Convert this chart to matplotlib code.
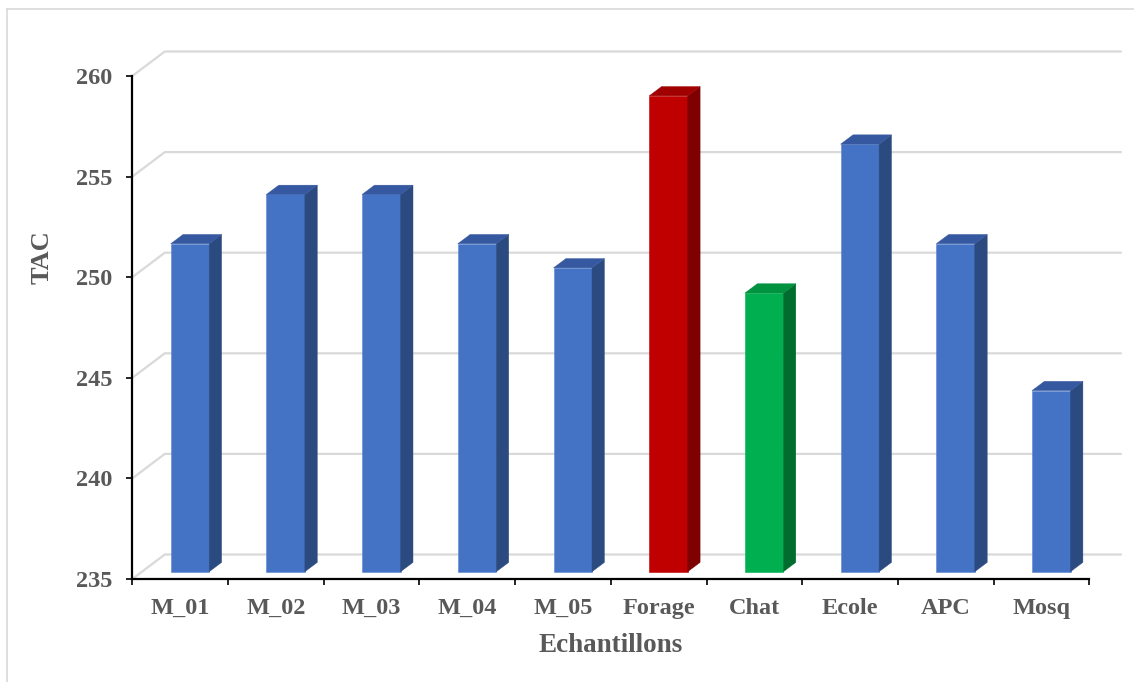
import matplotlib
matplotlib.use("Agg")
import matplotlib.pyplot as plt
from matplotlib.patches import Polygon
from matplotlib.lines import Line2D

# Sample data
categories = ["M_01", "M_02", "M_03", "M_04", "M_05",
              "Forage", "Chat", "Ecole", "APC", "Mosq"]
tac_values = [251.3, 253.75, 253.75, 251.3, 250.1,
              258.65, 248.85, 256.25, 251.3, 244.0]
y_ticks = [235, 240, 245, 250, 255, 260]

# face colours: (front, top, side)
BLUE = ("#4472C4", "#3558A0", "#2B4A80")
RED = ("#C00000", "#A00000", "#7E0000")
GREEN = ("#00B050", "#00923F", "#006C2E")
bar_styles = [BLUE, BLUE, BLUE, BLUE, BLUE, RED, GREEN, BLUE, BLUE, BLUE]

TEXT = "#595959"
GRID = "#D9D9D9"
FONT = ["Liberation Serif", "DejaVu Serif"]

W, H, DPI = 1134, 682, 100
fig = plt.figure(figsize=(W / DPI, H / DPI), dpi=DPI)

# front plane of the plot area, in pixels
left_px, right_px = 132.3, 1089.3
top_px, bottom_px = 76.0, 579.0
ax = fig.add_axes([left_px / W, 1 - bottom_px / H,
                   (right_px - left_px) / W, (bottom_px - top_px) / H])
ymin, ymax = y_ticks[0], y_ticks[-1]
n = len(categories)
ax.set_xlim(0, n)
ax.set_ylim(ymin, ymax)

# convert pixel depth offsets to data units
ux = n / (right_px - left_px)
uy = (ymax - ymin) / (bottom_px - top_px)
back_dx, back_dy = 32.5 * ux, 24.5 * uy          # back wall
front_dx, front_dy = 9.8 * ux, 7.3 * uy          # bar front faces
depth_dx, depth_dy = 12.4 * ux, 9.3 * uy         # bar depth
bar_w = 38.5 * ux

# gridlines on the back wall with their diagonal connectors
for t in y_ticks:
    ax.add_line(Line2D([0, back_dx, n + back_dx], [t, t + back_dy, t + back_dy],
                       color=GRID, lw=1.6, zorder=1, clip_on=False,
                       solid_capstyle="butt"))

# 3D-look bars
for i, (v, (c_front, c_top, c_side)) in enumerate(zip(tac_values, bar_styles)):
    xl = i + 0.5 - bar_w / 2 + front_dx
    xr = xl + bar_w
    y0 = ymin + front_dy
    y1 = v + front_dy
    ax.bar(xl, v - ymin, width=bar_w, bottom=y0, align="edge",
           color=c_front, edgecolor="#5A86D0" if c_front == BLUE[0] else c_front,
           linewidth=0.4, zorder=3, clip_on=False)
    side = Polygon([(xr, y0), (xr + depth_dx, y0 + depth_dy),
                    (xr + depth_dx, y1 + depth_dy), (xr, y1)],
                   closed=True, facecolor=c_side, edgecolor=c_side,
                   linewidth=0.3, zorder=3, clip_on=False)
    top = Polygon([(xl, y1), (xr, y1), (xr + depth_dx, y1 + depth_dy),
                   (xl + depth_dx, y1 + depth_dy)],
                  closed=True, facecolor=c_top, edgecolor=c_top,
                  linewidth=0.3, zorder=3, clip_on=False)
    ax.add_patch(side)
    ax.add_patch(top)

# axes styling
for s in ("top", "right"):
    ax.spines[s].set_visible(False)
for s in ("left", "bottom"):
    ax.spines[s].set_color("black")
    ax.spines[s].set_linewidth(1.6)
    ax.spines[s].set_zorder(5)

ax.set_yticks(y_ticks)
ax.set_yticklabels([str(t) for t in y_ticks])
ax.tick_params(axis="y", direction="out", length=4.5, width=1.2,
               color="black", pad=10, labelcolor=TEXT, labelsize=17.5)

ax.set_xticks(range(n + 1))
ax.set_xticklabels([])
ax.set_xticks([i + 0.5 for i in range(n)], minor=True)
ax.set_xticklabels(categories, minor=True)
ax.tick_params(axis="x", which="major", direction="out", length=4, width=1.2,
               color="black")
ax.tick_params(axis="x", which="minor", length=0, pad=13.5,
               labelcolor=TEXT, labelsize=17.5)

for lab in ax.get_yticklabels() + ax.get_xticklabels(minor=True):
    lab.set_fontfamily(FONT)
    lab.set_fontweight("bold")

fig.text(42.5 / W, 1 - 257 / H, "TAC", rotation=90, ha="center", va="center",
         fontsize=19, fontweight="bold", color=TEXT, family=FONT)
fig.text(611 / W, 1 - 645 / H, "Echantillons", ha="center", va="center",
         fontsize=19.5, fontweight="bold", color=TEXT, family=FONT)

# chart frame (top and left edges)
fig.add_artist(Line2D([7 / W, 7 / W], [0, 1 - 9 / H], transform=fig.transFigure,
                      color="#D9D9D9", lw=1.2))
fig.add_artist(Line2D([7 / W, 1], [1 - 9 / H, 1 - 9 / H], transform=fig.transFigure,
                      color="#D9D9D9", lw=1.2))

fig.savefig("out.png", dpi=DPI, facecolor="white")
